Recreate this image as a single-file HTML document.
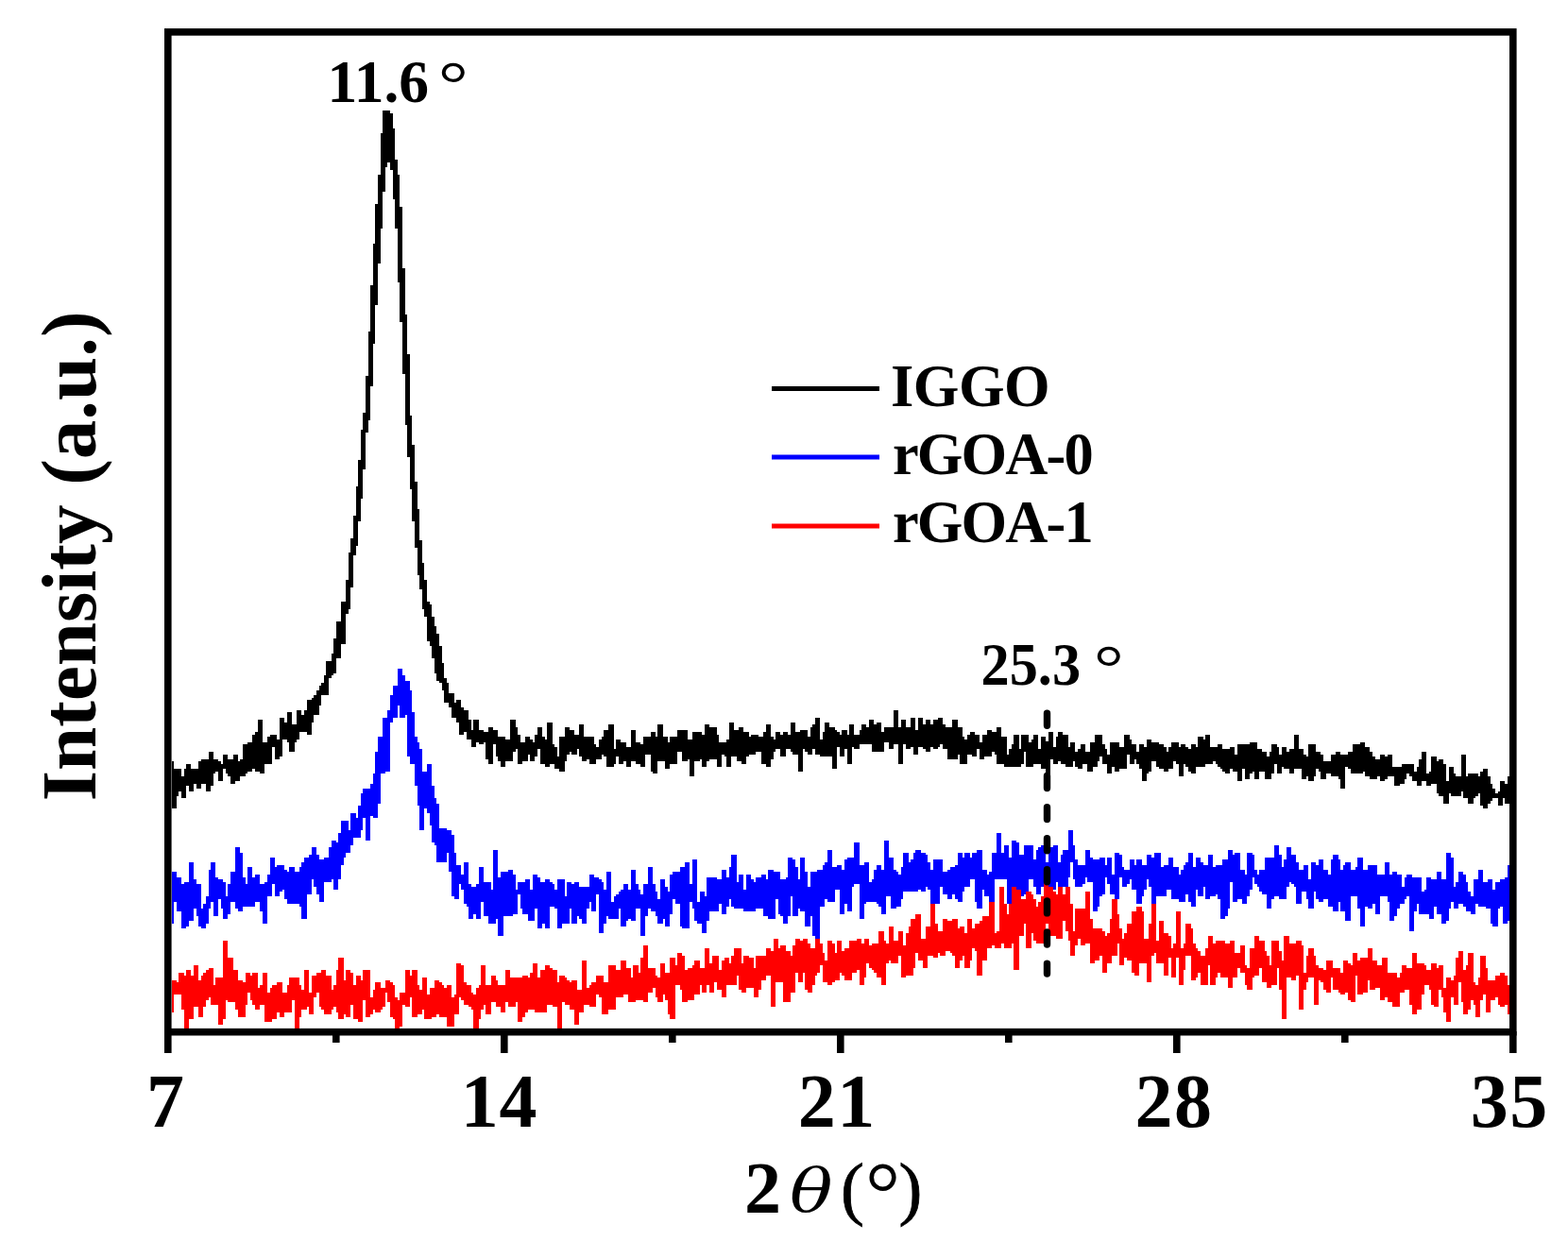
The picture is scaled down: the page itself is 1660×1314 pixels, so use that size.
<!DOCTYPE html>
<html><head><meta charset="utf-8"><style>
html,body{margin:0;padding:0;background:#fff;}
svg{display:block;}
text{font-family:"Liberation Serif","Times New Roman",serif;fill:#000;}
.b{font-weight:bold;}
</style></head><body>
<svg width="1660" height="1314" viewBox="0 0 1660 1314">
<rect width="1660" height="1314" fill="#fff"/>
<g shape-rendering="crispEdges">
<path d="M181.5 806.3H184.1V814.1H186.7H189.3H191.9V821.9H194.5V814.1H197.1V808.9H199.7H202.3V814.1H204.9H207.5H210.1V806.3H212.7V803.7H215.3H217.9H220.5V795.9H223.1H225.7V803.7H228.3H230.9V806.3H233.5V808.9H236.1V798.5H238.7H241.3V803.7H243.9H246.5V798.5H249.1H251.7V806.3H254.3V803.7H256.9V788.1H259.5H262.1V785.5H264.7H267.3V777.7H269.9V775.1H272.5V762.1H275.1H277.7V785.5H280.3H282.9V780.3H285.5V777.7H288.1H290.7H293.3V782.9H295.9V759.5H298.5H301.1V764.7H303.7V754.3H306.3H308.9V767.3H311.5H314.1V751.7H316.7H319.3V756.9H321.9V751.7H324.5V741.3H327.1H329.7V738.7H332.3V736.1H334.9V730.9H337.5V725.7H340.1V723.1H342.7V715.3H345.3V699.7H347.9H350.5V691.9H353.1V676.3H355.7V658.1H358.3H360.9V637.3H363.5H366.1V613.9H368.7V585.3H371.3V569.7H373.9V546.3H376.5V515.1H379.1V486.5H381.7V455.3H384.3V437.1H386.9V398.1H389.5V351.3H392.1V301.9H394.7V257.7H397.3V216.1H399.9V184.9H402.5V140.7H405.1V117.3H407.7H410.3H412.9V119.9H415.5V135.5H418.1V169.3H420.7V184.9H423.3V218.7H425.9V283.7H428.5V333.1H431.1V374.7H433.7V439.7H436.3V470.9H438.9V509.9H441.5V538.5H444.1V572.3H446.7V595.7H449.3V613.9H451.9V637.3H454.5V639.9H457.1V652.9H459.7V663.3H462.3V671.1H464.9V684.1H467.5V702.3H470.1V717.9H472.7V723.1H475.3V733.5H477.9H480.5V743.9H483.1V741.3H485.7H488.3V749.1H490.9V751.7H493.5H496.1V762.1H498.7V772.5H501.3V762.1H503.9H506.5V772.5H509.1H511.7V775.1H514.3H516.9V769.9H519.5H522.1V772.5H524.7H527.3V780.3H529.9H532.5H535.1V782.9H537.7H540.3V762.1H542.9H545.5V769.9H548.1V777.7H550.7V785.5H553.3H555.9V780.3H558.5H561.1V782.9H563.7V785.5H566.3V777.7H568.9V769.9H571.5H574.1V780.3H576.7V782.9H579.3V764.7H581.9H584.5V788.1H587.1V790.7H589.7V801.1H592.3V780.3H594.9H597.5V769.9H600.1H602.7V772.5H605.3H607.9V777.7H610.5H613.1V767.3H615.7H618.3V780.3H620.9H623.5H626.1H628.7V788.1H631.3V790.7H633.9V782.9H636.5V780.3H639.1V772.5H641.7H644.3V767.3H646.9H649.5V793.3H652.1V782.9H654.7H657.3V785.5H659.9H662.5V790.7H665.1H667.7V772.5H670.3H672.9V785.5H675.5H678.1V788.1H680.7V780.3H683.3H685.9H688.5V775.1H691.1H693.7V780.3H696.3V767.3H698.9H701.5V780.3H704.1H706.7V785.5H709.3V780.3H711.9H714.5H717.1V772.5H719.7H722.3H724.9H727.5V782.9H730.1H732.7V775.1H735.3H737.9H740.5H743.1V777.7H745.7V767.3H748.3H750.9V769.9H753.5H756.1H758.7V777.7H761.3V785.5H763.9H766.5H769.1V782.9H771.7V764.7H774.3H776.9V772.5H779.5H782.1V769.9H784.7H787.3V775.1H789.9H792.5V780.3H795.1V777.7H797.7H800.3H802.9V780.3H805.5H808.1V775.1H810.7V767.3H813.3H815.9V780.3H818.5V782.9H821.1V775.1H823.7H826.3V777.7H828.9V775.1H831.5H834.1V777.7H836.7V764.7H839.3H841.9V775.1H844.5H847.1V772.5H849.7H852.3H854.9V780.3H857.5V769.9H860.1V767.3H862.7V759.5H865.3H867.9V782.9H870.5V775.1H873.1V764.7H875.7H878.3V769.9H880.9H883.5V772.5H886.1V775.1H888.7V777.7H891.3V772.5H893.9H896.5V777.7H899.1V767.3H901.7H904.3V777.7H906.9H909.5V772.5H912.1V767.3H914.7H917.3V769.9H919.9V762.1H922.5H925.1V767.3H927.7V764.7H930.3H932.9V775.1H935.5V769.9H938.1H940.7H943.3H945.9V751.7H948.5H951.1V769.9H953.7V762.1H956.3H958.9V769.9H961.5H964.1V759.5H966.7H969.3V772.5H971.9V759.5H974.5H977.1V767.3H979.7V762.1H982.3H984.9V767.3H987.5V762.1H990.1H992.7V759.5H995.3H997.9V767.3H1000.5V769.9H1003.1H1005.7H1008.3V762.1H1010.9H1013.5V769.9H1016.1H1018.7V780.3H1021.3V782.9H1023.9V777.7H1026.5V775.1H1029.1H1031.7V777.7H1034.3H1036.9V785.5H1039.5V777.7H1042.1H1044.7V772.5H1047.3H1049.9V775.1H1052.5H1055.1V769.9H1057.7H1060.3V780.3H1062.9H1065.5V798.5H1068.1V793.3H1070.7V788.1H1073.3V777.7H1075.9H1078.5V793.3H1081.1V777.7H1083.7H1086.3H1088.9V785.5H1091.5V782.9H1094.1V777.7H1096.7H1099.3V793.3H1101.9V780.3H1104.5H1107.1V788.1H1109.7V775.1H1112.3H1114.9V790.7H1117.5V780.3H1120.1V775.1H1122.7H1125.3V777.7H1127.9H1130.5V790.7H1133.1V785.5H1135.7H1138.3V795.9H1140.9V793.3H1143.5V788.1H1146.1H1148.7V795.9H1151.3H1153.9V785.5H1156.5H1159.1V777.7H1161.7H1164.3H1166.9V788.1H1169.5V793.3H1172.1V798.5H1174.7V785.5H1177.3H1179.9H1182.5H1185.1V790.7H1187.7H1190.3V777.7H1192.9H1195.5V782.9H1198.1V788.1H1200.7H1203.3V795.9H1205.9V788.1H1208.5H1211.1V790.7H1213.7V782.9H1216.3H1218.9V785.5H1221.5H1224.1H1226.7V788.1H1229.3H1231.9V790.7H1234.5V795.9H1237.1V790.7H1239.7V785.5H1242.3H1244.9H1247.5V790.7H1250.1V788.1H1252.7H1255.3V790.7H1257.9V793.3H1260.5V788.1H1263.1H1265.7V790.7H1268.3V780.3H1270.9H1273.5V782.9H1276.1V777.7H1278.7H1281.3V790.7H1283.9H1286.5H1289.1V788.1H1291.7H1294.3V793.3H1296.9H1299.5H1302.1V790.7H1304.7H1307.3V798.5H1309.9V788.1H1312.5H1315.1H1317.7H1320.3H1322.9V785.5H1325.5H1328.1H1330.7V793.3H1333.3H1335.9V795.9H1338.5H1341.1V801.1H1343.7V795.9H1346.3V788.1H1348.9H1351.5V790.7H1354.1V798.5H1356.7V790.7H1359.3H1361.9V795.9H1364.5V793.3H1367.1H1369.7V777.7H1372.3H1374.9V793.3H1377.5H1380.1V798.5H1382.7V801.1H1385.3V788.1H1387.9H1390.5H1393.1V795.9H1395.7H1398.3V798.5H1400.9V806.3H1403.5H1406.1H1408.7V798.5H1411.3H1413.9V795.9H1416.5H1419.1V798.5H1421.7H1424.3H1426.9V795.9H1429.5H1432.1V788.1H1434.7H1437.3H1439.9V785.5H1442.5H1445.1V790.7H1447.7H1450.3V795.9H1452.9V801.1H1455.5V803.7H1458.1H1460.7V798.5H1463.3H1465.9V801.1H1468.5V798.5H1471.1H1473.7V811.5H1476.3H1478.9H1481.5H1484.1V808.9H1486.7H1489.3H1491.9H1494.5H1497.1V816.7H1499.7V811.5H1502.3V803.7H1504.9V795.9H1507.5H1510.1V819.3H1512.7V816.7H1515.3V801.1H1517.9H1520.5V806.3H1523.1V803.7H1525.7H1528.3V808.9H1530.9V827.1H1533.5V811.5H1536.1H1538.7V819.3H1541.3V821.9H1543.9H1546.5V798.5H1549.1H1551.7V821.9H1554.3V819.3H1556.9H1559.5H1562.1H1564.7V821.9H1567.3V816.7H1569.9V814.1H1572.5H1575.1V821.9H1577.7V829.7H1580.3V834.9H1582.9V840.1H1585.5V837.5H1588.1V827.1H1590.7H1593.3V829.7H1595.9V821.9H1598.0V850.5H1595.9H1593.3V845.3H1590.7V853.1H1588.1H1585.5V845.3H1582.9H1580.3V847.9H1577.7V850.5H1575.1V855.7H1572.5H1569.9V853.1H1567.3V840.1H1564.7V842.7H1562.1V845.3H1559.5V850.5H1556.9H1554.3V845.3H1551.7H1549.1V837.5H1546.5V842.7H1543.9H1541.3H1538.7H1536.1V840.1H1533.5V850.5H1530.9H1528.3V842.7H1525.7H1523.1V840.1H1520.5V829.7H1517.9H1515.3V832.3H1512.7H1510.1V827.1H1507.5H1504.9V832.3H1502.3H1499.7V827.1H1497.1H1494.5V821.9H1491.9V819.3H1489.3V824.5H1486.7V829.7H1484.1H1481.5V832.3H1478.9H1476.3V821.9H1473.7H1471.1H1468.5V824.5H1465.9V827.1H1463.3H1460.7V821.9H1458.1V824.5H1455.5H1452.9H1450.3V821.9H1447.7H1445.1V816.7H1442.5V819.3H1439.9H1437.3H1434.7H1432.1H1429.5V814.1H1426.9V811.5H1424.3V834.9H1421.7H1419.1V824.5H1416.5V821.9H1413.9H1411.3H1408.7V819.3H1406.1H1403.5V824.5H1400.9H1398.3V816.7H1395.7V814.1H1393.1V821.9H1390.5V827.1H1387.9H1385.3V821.9H1382.7V824.5H1380.1H1377.5V814.1H1374.9H1372.3H1369.7V819.3H1367.1H1364.5V814.1H1361.9H1359.3V811.5H1356.7V819.3H1354.1H1351.5V808.9H1348.9V819.3H1346.3V824.5H1343.7H1341.1H1338.5V816.7H1335.9H1333.3V824.5H1330.7H1328.1V816.7H1325.5V819.3H1322.9V824.5H1320.3H1317.7V814.1H1315.1V827.1H1312.5H1309.9V816.7H1307.3H1304.7V814.1H1302.1V819.3H1299.5H1296.9V816.7H1294.3V814.1H1291.7V811.5H1289.1V808.9H1286.5V806.3H1283.9V808.9H1281.3H1278.7H1276.1V811.5H1273.5H1270.9H1268.3H1265.7V819.3H1263.1H1260.5V816.7H1257.9V811.5H1255.3V808.9H1252.7V821.9H1250.1H1247.5V808.9H1244.9V806.3H1242.3V814.1H1239.7H1237.1V816.7H1234.5H1231.9V814.1H1229.3H1226.7V811.5H1224.1V806.3H1221.5H1218.9V816.7H1216.3V819.3H1213.7V827.1H1211.1H1208.5V814.1H1205.9V808.9H1203.3V803.7H1200.7V808.9H1198.1H1195.5V798.5H1192.9V814.1H1190.3H1187.7H1185.1V816.7H1182.5H1179.9V811.5H1177.3V819.3H1174.7H1172.1V808.9H1169.5H1166.9V801.1H1164.3V806.3H1161.7V811.5H1159.1H1156.5V816.7H1153.9H1151.3V808.9H1148.7H1146.1V814.1H1143.5H1140.9V811.5H1138.3V806.3H1135.7V811.5H1133.1H1130.5H1127.9V808.9H1125.3H1122.7V806.3H1120.1V808.9H1117.5H1114.9V803.7H1112.3V834.9H1109.7H1107.1V814.1H1104.5H1101.9V808.9H1099.3H1096.7H1094.1V811.5H1091.5H1088.9H1086.3V795.9H1083.7V808.9H1081.1V811.5H1078.5H1075.9H1073.3H1070.7H1068.1H1065.5H1062.9V808.9H1060.3H1057.7H1055.1V798.5H1052.5V795.9H1049.9V801.1H1047.3H1044.7H1042.1V803.7H1039.5H1036.9V793.3H1034.3V801.1H1031.7H1029.1V798.5H1026.5H1023.9V808.9H1021.3H1018.7H1016.1V798.5H1013.5V803.7H1010.9H1008.3H1005.7H1003.1V793.3H1000.5H997.9V788.1H995.3V790.7H992.7V793.3H990.1H987.5V790.7H984.9V795.9H982.3H979.7V793.3H977.1V790.7H974.5H971.9V798.5H969.3H966.7V790.7H964.1V793.3H961.5H958.9V788.1H956.3V808.9H953.7H951.1V788.1H948.5H945.9V793.3H943.3H940.7V785.5H938.1H935.5V795.9H932.9H930.3H927.7H925.1H922.5V788.1H919.9H917.3H914.7H912.1H909.5V793.3H906.9H904.3V790.7H901.7V808.9H899.1H896.5V793.3H893.9V801.1H891.3H888.7V790.7H886.1V814.1H883.5H880.9V801.1H878.3H875.7H873.1H870.5H867.9V798.5H865.3H862.7V793.3H860.1V798.5H857.5H854.9V795.9H852.3V793.3H849.7V816.7H847.1H844.5V798.5H841.9H839.3V795.9H836.7V793.3H834.1H831.5V801.1H828.9H826.3V793.3H823.7H821.1V795.9H818.5V803.7H815.9V811.5H813.3H810.7V808.9H808.1H805.5V795.9H802.9H800.3V798.5H797.7H795.1H792.5V801.1H789.9V808.9H787.3H784.7V806.3H782.1H779.5V801.1H776.9H774.3V811.5H771.7H769.1V801.1H766.5V798.5H763.9V811.5H761.3H758.7V803.7H756.1H753.5H750.9V806.3H748.3V811.5H745.7H743.1V803.7H740.5V806.3H737.9H735.3V821.9H732.7H730.1V803.7H727.5V806.3H724.9H722.3V795.9H719.7H717.1V808.9H714.5H711.9H709.3V814.1H706.7H704.1V806.3H701.5H698.9H696.3V819.3H693.7H691.1V816.7H688.5V798.5H685.9H683.3V811.5H680.7H678.1V808.9H675.5H672.9V806.3H670.3H667.7V811.5H665.1H662.5V806.3H659.9V808.9H657.3H654.7V801.1H652.1V808.9H649.5V811.5H646.9H644.3H641.7V801.1H639.1V798.5H636.5V803.7H633.9H631.3V808.9H628.7H626.1H623.5V803.7H620.9V806.3H618.3H615.7V801.1H613.1V793.3H610.5V798.5H607.9H605.3V795.9H602.7V798.5H600.1V806.3H597.5V816.7H594.9H592.3V814.1H589.7H587.1V808.9H584.5H581.9V811.5H579.3H576.7V808.9H574.1H571.5V793.3H568.9V801.1H566.3V806.3H563.7H561.1V798.5H558.5V806.3H555.9H553.3V808.9H550.7H548.1V793.3H545.5V795.9H542.9V806.3H540.3H537.7H535.1V811.5H532.5H529.9V806.3H527.3V801.1H524.7V788.1H522.1V808.9H519.5H516.9V803.7H514.3V785.5H511.7V788.1H509.1H506.5V785.5H503.9V790.7H501.3H498.7V782.9H496.1H493.5V775.1H490.9V777.7H488.3H485.7V764.7H483.1V759.5H480.5H477.9V749.1H475.3V743.9H472.7H470.1V730.9H467.5V723.1H464.9V720.5H462.3V712.7H459.7V697.1H457.1V684.1H454.5V678.9H451.9V652.9H449.3V645.1H446.7V624.3H444.1V608.7H441.5V580.1H438.9V551.5H436.3V517.7H433.7V483.9H431.1V450.1H428.5V395.5H425.9V340.9H423.3V299.3H420.7V242.1H418.1V210.9H415.5V179.7H412.9V171.9H410.3V177.1H407.7V203.1H405.1V242.1H402.5V278.5H399.9V322.7H397.3V364.3H394.7V408.5H392.1V444.9H389.5V457.9H386.9V496.9H384.3V528.1H381.7V551.5H379.1V577.5H376.5V587.9H373.9V621.7H371.3V645.1H368.7V650.3H366.1V681.5H363.5H360.9V697.1H358.3H355.7V712.7H353.1V715.3H350.5V717.9H347.9V736.1H345.3H342.7H340.1V746.5H337.5V756.9H334.9H332.3V764.7H329.7V777.7H327.1H324.5V775.1H321.9H319.3H316.7V782.9H314.1V785.5H311.5V795.9H308.9H306.3V785.5H303.7V782.9H301.1H298.5V801.1H295.9V803.7H293.3H290.7V790.7H288.1V808.9H285.5H282.9H280.3V819.3H277.7H275.1V816.7H272.5H269.9V814.1H267.3V816.7H264.7H262.1V819.3H259.5V821.9H256.9H254.3V827.1H251.7H249.1V829.7H246.5H243.9V821.9H241.3V819.3H238.7V814.1H236.1V827.1H233.5H230.9V816.7H228.3V819.3H225.7V832.3H223.1V837.5H220.5H217.9V829.7H215.3H212.7V834.9H210.1H207.5V829.7H204.9V837.5H202.3H199.7V832.3H197.1V845.3H194.5H191.9V837.5H189.3V842.7H186.7V855.7H184.1H181.5Z" fill="#000"/>
<path d="M181.5 923.3H184.1H186.7V928.5H189.3H191.9V936.3H194.5V933.7H197.1H199.7V912.9H202.3H204.9V931.1H207.5V936.3H210.1H212.7V962.3H215.3V957.1H217.9V949.3H220.5V920.7H223.1V912.9H225.7H228.3V928.5H230.9V931.1H233.5H236.1V933.7H238.7V949.3H241.3V936.3H243.9V923.3H246.5H249.1V897.3H251.7H254.3V902.5H256.9V928.5H259.5V936.3H262.1V918.1H264.7H267.3V928.5H269.9V925.9H272.5H275.1V936.3H277.7H280.3V933.7H282.9V925.9H285.5V907.7H288.1H290.7V918.1H293.3V915.5H295.9H298.5H301.1V920.7H303.7V923.3H306.3V918.1H308.9H311.5V923.3H314.1H316.7V918.1H319.3V912.9H321.9V907.7H324.5H327.1V905.1H329.7V897.3H332.3H334.9V905.1H337.5V910.3H340.1H342.7V907.7H345.3H347.9V897.3H350.5V889.5H353.1H355.7V892.1H358.3V881.7H360.9V868.7H363.5H366.1H368.7V879.1H371.3V860.9H373.9H376.5V866.1H379.1V853.1H381.7V840.1H384.3V834.9H386.9H389.5H392.1V829.7H394.7V819.3H397.3V795.9H399.9V780.3H402.5H405.1V759.5H407.7H410.3V751.7H412.9V736.1H415.5V725.7H418.1H420.7V707.5H423.3H425.9V715.3H428.5V720.5H431.1H433.7V730.9H436.3V754.3H438.9V780.3H441.5V785.5H444.1V793.3H446.7V816.7H449.3H451.9V808.9H454.5H457.1V832.3H459.7V845.3H462.3V850.5H464.9V876.5H467.5H470.1H472.7V879.1H475.3H477.9V884.3H480.5V902.5H483.1V915.5H485.7H488.3V925.9H490.9V912.9H493.5H496.1V936.3H498.7V938.9H501.3H503.9V936.3H506.5V918.1H509.1H511.7V933.7H514.3H516.9H519.5V941.5H522.1V899.9H524.7H527.3V928.5H529.9V923.3H532.5H535.1H537.7V920.7H540.3H542.9V925.9H545.5V941.5H548.1V933.7H550.7H553.3H555.9V931.1H558.5H561.1V941.5H563.7V925.9H566.3H568.9V928.5H571.5V933.7H574.1H576.7V931.1H579.3H581.9V933.7H584.5V936.3H587.1V941.5H589.7V931.1H592.3H594.9H597.5V949.3H600.1V933.7H602.7H605.3V936.3H607.9V933.7H610.5H613.1V938.9H615.7H618.3H620.9H623.5V925.9H626.1H628.7V928.5H631.3H633.9V931.1H636.5V933.7H639.1V941.5H641.7V923.3H644.3H646.9V954.5H649.5V949.3H652.1V946.7H654.7V944.1H657.3V941.5H659.9V936.3H662.5H665.1V941.5H667.7V920.7H670.3H672.9V936.3H675.5V941.5H678.1V946.7H680.7V936.3H683.3H685.9V918.1H688.5H691.1V936.3H693.7V944.1H696.3V951.9H698.9V931.1H701.5H704.1V938.9H706.7V944.1H709.3V925.9H711.9V923.3H714.5H717.1H719.7V918.1H722.3H724.9V912.9H727.5H730.1V936.3H732.7V910.3H735.3H737.9V954.5H740.5V944.1H743.1H745.7V949.3H748.3V928.5H750.9H753.5H756.1H758.7V931.1H761.3H763.9V920.7H766.5H769.1V928.5H771.7V918.1H774.3V905.1H776.9H779.5V933.7H782.1V925.9H784.7H787.3V941.5H789.9V925.9H792.5H795.1V931.1H797.7V933.7H800.3V928.5H802.9H805.5V925.9H808.1H810.7V931.1H813.3V920.7H815.9H818.5V923.3H821.1H823.7H826.3V931.1H828.9H831.5V928.5H834.1V907.7H836.7H839.3V910.3H841.9V918.1H844.5V931.1H847.1V907.7H849.7H852.3V923.3H854.9V938.9H857.5V923.3H860.1H862.7H865.3V920.7H867.9H870.5V915.5H873.1V912.9H875.7V899.9H878.3H880.9V918.1H883.5H886.1V915.5H888.7H891.3V920.7H893.9V910.3H896.5V907.7H899.1H901.7H904.3V892.1H906.9H909.5V915.5H912.1H914.7V912.9H917.3H919.9V933.7H922.5V931.1H925.1V920.7H927.7V915.5H930.3H932.9V920.7H935.5V889.5H938.1H940.7V907.7H943.3H945.9V920.7H948.5V923.3H951.1V925.9H953.7V918.1H956.3V902.5H958.9H961.5V912.9H964.1V910.3H966.7V902.5H969.3V899.9H971.9H974.5V902.5H977.1H979.7V905.1H982.3V912.9H984.9V920.7H987.5V910.3H990.1H992.7H995.3H997.9V923.3H1000.5H1003.1V920.7H1005.7V918.1H1008.3H1010.9V915.5H1013.5V902.5H1016.1H1018.7V907.7H1021.3V902.5H1023.9H1026.5V907.7H1029.1V902.5H1031.7H1034.3V899.9H1036.9H1039.5V920.7H1042.1H1044.7V925.9H1047.3V923.3H1049.9V902.5H1052.5H1055.1V881.7H1057.7H1060.3V902.5H1062.9V894.7H1065.5H1068.1V907.7H1070.7V889.5H1073.3H1075.9V892.1H1078.5V905.1H1081.1H1083.7V894.7H1086.3H1088.9H1091.5H1094.1V910.3H1096.7V899.9H1099.3V897.3H1101.9V894.7H1104.5H1107.1V912.9H1109.7V897.3H1112.3H1114.9V894.7H1117.5H1120.1V912.9H1122.7V905.1H1125.3V899.9H1127.9H1130.5V879.1H1133.1H1135.7V894.7H1138.3V910.3H1140.9V915.5H1143.5H1146.1H1148.7V899.9H1151.3H1153.9V907.7H1156.5V910.3H1159.1H1161.7H1164.3V907.7H1166.9H1169.5V915.5H1172.1V907.7H1174.7H1177.3V925.9H1179.9V902.5H1182.5H1185.1V905.1H1187.7V918.1H1190.3V920.7H1192.9H1195.5V910.3H1198.1H1200.7V915.5H1203.3V910.3H1205.9H1208.5V915.5H1211.1H1213.7V905.1H1216.3H1218.9V907.7H1221.5V902.5H1224.1H1226.7H1229.3V918.1H1231.9V915.5H1234.5H1237.1V907.7H1239.7H1242.3V918.1H1244.9H1247.5V925.9H1250.1V920.7H1252.7V915.5H1255.3V912.9H1257.9V902.5H1260.5H1263.1V918.1H1265.7V907.7H1268.3H1270.9V912.9H1273.5V915.5H1276.1H1278.7V905.1H1281.3H1283.9V918.1H1286.5V915.5H1289.1H1291.7H1294.3V910.3H1296.9H1299.5V899.9H1302.1H1304.7V905.1H1307.3V902.5H1309.9H1312.5V920.7H1315.1H1317.7V925.9H1320.3V902.5H1322.9H1325.5V905.1H1328.1V920.7H1330.7V925.9H1333.3V920.7H1335.9H1338.5V907.7H1341.1H1343.7H1346.3H1348.9V894.7H1351.5H1354.1V905.1H1356.7V918.1H1359.3V910.3H1361.9V897.3H1364.5H1367.1V905.1H1369.7H1372.3V912.9H1374.9V920.7H1377.5H1380.1V915.5H1382.7H1385.3V931.1H1387.9V912.9H1390.5H1393.1V915.5H1395.7V910.3H1398.3H1400.9V920.7H1403.5H1406.1V925.9H1408.7V910.3H1411.3V905.1H1413.9H1416.5V910.3H1419.1V920.7H1421.7V915.5H1424.3V912.9H1426.9H1429.5V920.7H1432.1H1434.7V918.1H1437.3V907.7H1439.9H1442.5V920.7H1445.1H1447.7V915.5H1450.3H1452.9H1455.5H1458.1V925.9H1460.7H1463.3H1465.9V912.9H1468.5H1471.1V925.9H1473.7V923.3H1476.3H1478.9V925.9H1481.5H1484.1V938.9H1486.7V928.5H1489.3V925.9H1491.9H1494.5V928.5H1497.1H1499.7H1502.3H1504.9V944.1H1507.5V941.5H1510.1V928.5H1512.7H1515.3V931.1H1517.9H1520.5V923.3H1523.1H1525.7V931.1H1528.3H1530.9V902.5H1533.5H1536.1V907.7H1538.7V938.9H1541.3V933.7H1543.9V923.3H1546.5H1549.1V925.9H1551.7V933.7H1554.3V944.1H1556.9V949.3H1559.5V931.1H1562.1H1564.7V920.7H1567.3H1569.9V933.7H1572.5H1575.1V931.1H1577.7H1580.3V941.5H1582.9V933.7H1585.5H1588.1V931.1H1590.7H1593.3V928.5H1595.9V915.5H1598.0V975.3H1595.9V977.9H1593.3H1590.7V959.7H1588.1V962.3H1585.5V980.5H1582.9H1580.3V977.9H1577.7V962.3H1575.1H1572.5V959.7H1569.9H1567.3H1564.7V957.1H1562.1V967.5H1559.5H1556.9V964.9H1554.3H1551.7V959.7H1549.1V957.1H1546.5H1543.9V962.3H1541.3H1538.7V954.5H1536.1V962.3H1533.5V975.3H1530.9V977.9H1528.3H1525.7V967.5H1523.1H1520.5V959.7H1517.9V972.7H1515.3H1512.7V967.5H1510.1H1507.5H1504.9H1502.3V957.1H1499.7V964.9H1497.1V985.7H1494.5H1491.9V949.3H1489.3V951.9H1486.7V957.1H1484.1H1481.5V962.3H1478.9V970.1H1476.3V975.3H1473.7H1471.1V954.5H1468.5V949.3H1465.9H1463.3H1460.7V967.5H1458.1H1455.5V957.1H1452.9V962.3H1450.3H1447.7V959.7H1445.1V980.5H1442.5H1439.9V962.3H1437.3V949.3H1434.7H1432.1H1429.5V975.3H1426.9H1424.3V964.9H1421.7H1419.1V954.5H1416.5V964.9H1413.9H1411.3V959.7H1408.7H1406.1V951.9H1403.5H1400.9V954.5H1398.3H1395.7V951.9H1393.1V944.1H1390.5V962.3H1387.9H1385.3V951.9H1382.7V944.1H1380.1H1377.5V957.1H1374.9H1372.3V938.9H1369.7V936.3H1367.1V933.7H1364.5V938.9H1361.9V951.9H1359.3H1356.7H1354.1V949.3H1351.5H1348.9V951.9H1346.3V962.3H1343.7H1341.1V946.7H1338.5H1335.9V944.1H1333.3V938.9H1330.7V936.3H1328.1V928.5H1325.5V941.5H1322.9V949.3H1320.3V957.1H1317.7H1315.1V951.9H1312.5H1309.9V954.5H1307.3H1304.7V933.7H1302.1V962.3H1299.5V970.1H1296.9V972.7H1294.3H1291.7V951.9H1289.1V946.7H1286.5V949.3H1283.9H1281.3V951.9H1278.7H1276.1V938.9H1273.5V949.3H1270.9H1268.3V941.5H1265.7V959.7H1263.1H1260.5V954.5H1257.9V946.7H1255.3V954.5H1252.7H1250.1H1247.5V951.9H1244.9H1242.3H1239.7V941.5H1237.1H1234.5V949.3H1231.9H1229.3H1226.7H1224.1V957.1H1221.5H1218.9V938.9H1216.3V931.1H1213.7V941.5H1211.1V949.3H1208.5V957.1H1205.9H1203.3V941.5H1200.7H1198.1V931.1H1195.5V936.3H1192.9V938.9H1190.3H1187.7V928.5H1185.1V951.9H1182.5H1179.9V946.7H1177.3H1174.7V936.3H1172.1V928.5H1169.5V946.7H1166.9V949.3H1164.3V959.7H1161.7V964.9H1159.1H1156.5V933.7H1153.9H1151.3V928.5H1148.7V936.3H1146.1V938.9H1143.5H1140.9H1138.3V931.1H1135.7V912.9H1133.1V928.5H1130.5V938.9H1127.9H1125.3V944.1H1122.7H1120.1V933.7H1117.5V941.5H1114.9H1112.3H1109.7H1107.1V938.9H1104.5H1101.9V946.7H1099.3H1096.7V938.9H1094.1V931.1H1091.5H1088.9V946.7H1086.3H1083.7V949.3H1081.1H1078.5V946.7H1075.9V949.3H1073.3H1070.7V957.1H1068.1H1065.5V931.1H1062.9H1060.3H1057.7H1055.1H1052.5V957.1H1049.9H1047.3V949.3H1044.7H1042.1V941.5H1039.5V962.3H1036.9H1034.3V954.5H1031.7V931.1H1029.1H1026.5V938.9H1023.9H1021.3V944.1H1018.7V954.5H1016.1H1013.5V951.9H1010.9V946.7H1008.3V951.9H1005.7H1003.1V946.7H1000.5H997.9V938.9H995.3V957.1H992.7H990.1V970.1H987.5H984.9V941.5H982.3V938.9H979.7V944.1H977.1H974.5V941.5H971.9V944.1H969.3H966.7H964.1H961.5H958.9H956.3V951.9H953.7V959.7H951.1H948.5V962.3H945.9H943.3V949.3H940.7H938.1V967.5H935.5H932.9V959.7H930.3V957.1H927.7V954.5H925.1H922.5H919.9H917.3V957.1H914.7V972.7H912.1H909.5V936.3H906.9H904.3V938.9H901.7V964.9H899.1H896.5V957.1H893.9V967.5H891.3H888.7V941.5H886.1H883.5V954.5H880.9H878.3H875.7V951.9H873.1V959.7H870.5H867.9V996.1H865.3H862.7V990.9H860.1V970.1H857.5V980.5H854.9H852.3V964.9H849.7H847.1V962.3H844.5V970.1H841.9H839.3V949.3H836.7V970.1H834.1V977.9H831.5H828.9V970.1H826.3V967.5H823.7V951.9H821.1V972.7H818.5H815.9H813.3V970.1H810.7H808.1V962.3H805.5H802.9H800.3V964.9H797.7H795.1H792.5H789.9H787.3V962.3H784.7H782.1H779.5H776.9V959.7H774.3V951.9H771.7V959.7H769.1V967.5H766.5H763.9V957.1H761.3V964.9H758.7H756.1H753.5H750.9V975.3H748.3V988.3H745.7H743.1V977.9H740.5H737.9V975.3H735.3V962.3H732.7V954.5H730.1V983.1H727.5H724.9H722.3V980.5H719.7V957.1H717.1H714.5V951.9H711.9V967.5H709.3V980.5H706.7H704.1V972.7H701.5V977.9H698.9H696.3V970.1H693.7V964.9H691.1H688.5V962.3H685.9V970.1H683.3V990.9H680.7H678.1V962.3H675.5H672.9V975.3H670.3H667.7V972.7H665.1V975.3H662.5V980.5H659.9H657.3V962.3H654.7V972.7H652.1H649.5H646.9H644.3V970.1H641.7V977.9H639.1V988.3H636.5H633.9V946.7H631.3V964.9H628.7H626.1V954.5H623.5V962.3H620.9V977.9H618.3H615.7V972.7H613.1V970.1H610.5V977.9H607.9H605.3V962.3H602.7V977.9H600.1H597.5H594.9V983.1H592.3H589.7V962.3H587.1V959.7H584.5H581.9V983.1H579.3H576.7V977.9H574.1V983.1H571.5H568.9V962.3H566.3V975.3H563.7H561.1H558.5V967.5H555.9H553.3V962.3H550.7V946.7H548.1V967.5H545.5H542.9V970.1H540.3H537.7H535.1H532.5V990.9H529.9H527.3V972.7H524.7V977.9H522.1H519.5H516.9V970.1H514.3H511.7V954.5H509.1V972.7H506.5H503.9V967.5H501.3V972.7H498.7H496.1V959.7H493.5V957.1H490.9V941.5H488.3V936.3H485.7V951.9H483.1H480.5V949.3H477.9V923.3H475.3V902.5H472.7V912.9H470.1H467.5H464.9H462.3V894.7H459.7V892.1H457.1V873.9H454.5V860.9H451.9V855.7H449.3V879.1H446.7H444.1V853.1H441.5V832.3H438.9V808.9H436.3H433.7V801.1H431.1V756.9H428.5V759.5H425.9H423.3V746.5H420.7V759.5H418.1H415.5V764.7H412.9V816.7H410.3H407.7V819.3H405.1H402.5V850.5H399.9V866.1H397.3H394.7V863.5H392.1V889.5H389.5H386.9V866.1H384.3V879.1H381.7V886.9H379.1H376.5H373.9V894.7H371.3V902.5H368.7H366.1V907.7H363.5V915.5H360.9V931.1H358.3V941.5H355.7H353.1V931.1H350.5V933.7H347.9H345.3H342.7V954.5H340.1H337.5V946.7H334.9V938.9H332.3V931.1H329.7V946.7H327.1H324.5V972.7H321.9H319.3V959.7H316.7V957.1H314.1H311.5H308.9H306.3H303.7V951.9H301.1V941.5H298.5V944.1H295.9V949.3H293.3H290.7V936.3H288.1V949.3H285.5H282.9V977.9H280.3H277.7V964.9H275.1V954.5H272.5H269.9V959.7H267.3H264.7H262.1H259.5H256.9V964.9H254.3H251.7V962.3H249.1V954.5H246.5H243.9V967.5H241.3V972.7H238.7H236.1V962.3H233.5V951.9H230.9V970.1H228.3H225.7V954.5H223.1V962.3H220.5V977.9H217.9V983.1H215.3H212.7V980.5H210.1V970.1H207.5V962.3H204.9V975.3H202.3H199.7V980.5H197.1V983.1H194.5H191.9V964.9H189.3H186.7V954.5H184.1V977.9H181.5Z" fill="#00f"/>
<path d="M181.5 1037.7H184.1H186.7V1040.3H189.3V1029.9H191.9H194.5V1032.5H197.1V1027.3H199.7H202.3V1032.5H204.9V1022.1H207.5H210.1V1037.7H212.7V1032.5H215.3V1029.9H217.9V1027.3H220.5V1024.7H223.1H225.7V1042.9H228.3V1035.1H230.9H233.5H236.1V996.1H238.7H241.3V1014.3H243.9H246.5V1027.3H249.1H251.7V1037.7H254.3H256.9V1040.3H259.5V1029.9H262.1H264.7V1032.5H267.3V1029.9H269.9H272.5V1045.5H275.1V1042.9H277.7V1029.9H280.3H282.9V1050.7H285.5V1045.5H288.1V1042.9H290.7H293.3V1040.3H295.9H298.5V1050.7H301.1H303.7V1042.9H306.3V1035.1H308.9H311.5H314.1H316.7V1042.9H319.3V1048.1H321.9V1027.3H324.5H327.1V1050.7H329.7V1032.5H332.3H334.9V1029.9H337.5H340.1V1027.3H342.7H345.3V1032.5H347.9H350.5V1048.1H353.1V1042.9H355.7V1027.3H358.3V1014.3H360.9H363.5V1037.7H366.1V1027.3H368.7H371.3V1029.9H373.9V1042.9H376.5V1032.5H379.1H381.7V1037.7H384.3V1027.3H386.9H389.5H392.1V1055.9H394.7V1048.1H397.3V1040.3H399.9H402.5V1045.5H405.1H407.7V1037.7H410.3H412.9V1040.3H415.5V1042.9H418.1V1055.9H420.7V1058.5H423.3V1050.7H425.9H428.5V1027.3H431.1H433.7V1032.5H436.3V1027.3H438.9H441.5V1042.9H444.1V1048.1H446.7V1035.1H449.3H451.9V1053.3H454.5V1045.5H457.1H459.7V1037.7H462.3H464.9V1040.3H467.5V1042.9H470.1V1045.5H472.7V1042.9H475.3H477.9V1055.9H480.5V1053.3H483.1V1019.5H485.7H488.3V1022.1H490.9V1040.3H493.5V1042.9H496.1H498.7V1050.7H501.3V1053.3H503.9V1045.5H506.5V1042.9H509.1V1022.1H511.7H514.3V1042.9H516.9H519.5V1032.5H522.1H524.7V1037.7H527.3V1042.9H529.9H532.5H535.1V1027.3H537.7H540.3V1035.1H542.9H545.5H548.1H550.7H553.3V1032.5H555.9H558.5V1035.1H561.1V1029.9H563.7V1019.5H566.3H568.9V1035.1H571.5V1027.3H574.1H576.7V1022.1H579.3H581.9V1024.7H584.5V1027.3H587.1H589.7V1040.3H592.3V1032.5H594.9H597.5V1035.1H600.1V1037.7H602.7V1040.3H605.3V1037.7H607.9H610.5V1048.1H613.1H615.7V1016.9H618.3H620.9V1045.5H623.5V1042.9H626.1V1040.3H628.7H631.3V1032.5H633.9H636.5H639.1V1040.3H641.7H644.3V1022.1H646.9H649.5H652.1V1027.3H654.7H657.3V1016.9H659.9H662.5V1024.7H665.1H667.7V1035.1H670.3V1022.1H672.9H675.5V1029.9H678.1V1014.3H680.7V1001.3H683.3H685.9V1024.7H688.5H691.1H693.7V1032.5H696.3V1035.1H698.9V1019.5H701.5H704.1V1029.9H706.7H709.3V1014.3H711.9H714.5V1022.1H717.1V1009.1H719.7H722.3V1011.7H724.9V1027.3H727.5V1024.7H730.1H732.7V1022.1H735.3V1016.9H737.9H740.5V1024.7H743.1H745.7V1003.9H748.3H750.9V1019.5H753.5V1011.7H756.1H758.7H761.3V1027.3H763.9V1016.9H766.5V1014.3H769.1H771.7V1019.5H774.3V1011.7H776.9V1003.9H779.5H782.1H784.7V1019.5H787.3V1011.7H789.9H792.5V1014.3H795.1H797.7V1024.7H800.3V1011.7H802.9H805.5H808.1H810.7V1003.9H813.3H815.9V1006.5H818.5V993.5H821.1H823.7V1003.9H826.3V1001.3H828.9H831.5V1006.5H834.1H836.7V1011.7H839.3V1001.3H841.9V993.5H844.5H847.1V996.1H849.7V993.5H852.3H854.9V998.7H857.5V1003.9H860.1H862.7V993.5H865.3H867.9V998.7H870.5V1009.1H873.1V1016.9H875.7V996.1H878.3H880.9V998.7H883.5V1009.1H886.1V996.1H888.7H891.3V1006.5H893.9V1003.9H896.5H899.1V996.1H901.7H904.3H906.9V993.5H909.5H912.1V998.7H914.7V993.5H917.3H919.9V1001.3H922.5V998.7H925.1H927.7H930.3V985.7H932.9H935.5V996.1H938.1V998.7H940.7V980.5H943.3H945.9V996.1H948.5H951.1V985.7H953.7H956.3V1001.3H958.9V988.3H961.5V980.5H964.1V972.7H966.7H969.3V967.5H971.9H974.5V993.5H977.1H979.7V980.5H982.3H984.9V957.1H987.5H990.1V977.9H992.7V985.7H995.3H997.9V972.7H1000.5H1003.1V975.3H1005.7H1008.3V972.7H1010.9H1013.5V983.1H1016.1V980.5H1018.7H1021.3V988.3H1023.9V972.7H1026.5H1029.1V983.1H1031.7V977.9H1034.3H1036.9V975.3H1039.5V970.1H1042.1H1044.7H1047.3V954.5H1049.9H1052.5V988.3H1055.1V985.7H1057.7V938.9H1060.3H1062.9V957.1H1065.5V967.5H1068.1V957.1H1070.7V938.9H1073.3H1075.9V941.5H1078.5H1081.1V951.9H1083.7H1086.3V944.1H1088.9H1091.5V946.7H1094.1V951.9H1096.7V959.7H1099.3V954.5H1101.9V949.3H1104.5V928.5H1107.1H1109.7V938.9H1112.3H1114.9V944.1H1117.5V946.7H1120.1V938.9H1122.7H1125.3V946.7H1127.9V938.9H1130.5H1133.1V957.1H1135.7V985.7H1138.3V962.3H1140.9H1143.5H1146.1H1148.7V944.1H1151.3H1153.9V972.7H1156.5V983.1H1159.1H1161.7H1164.3H1166.9V985.7H1169.5V990.9H1172.1V988.3H1174.7V972.7H1177.3V951.9H1179.9H1182.5V967.5H1185.1V983.1H1187.7V993.5H1190.3V988.3H1192.9V977.9H1195.5H1198.1V964.9H1200.7H1203.3V959.7H1205.9H1208.5V964.9H1211.1V993.5H1213.7H1216.3V977.9H1218.9V957.1H1221.5H1224.1V996.1H1226.7V975.3H1229.3H1231.9V988.3H1234.5H1237.1V990.9H1239.7V1003.9H1242.3V998.7H1244.9V964.9H1247.5H1250.1V1003.9H1252.7V998.7H1255.3V977.9H1257.9H1260.5V983.1H1263.1V998.7H1265.7V1003.9H1268.3V1006.5H1270.9V1011.7H1273.5H1276.1V1003.9H1278.7V990.9H1281.3H1283.9V998.7H1286.5V996.1H1289.1H1291.7H1294.3H1296.9V998.7H1299.5H1302.1V996.1H1304.7H1307.3V1009.1H1309.9H1312.5V1001.3H1315.1H1317.7V1022.1H1320.3V1024.7H1322.9V1003.9H1325.5H1328.1V990.9H1330.7H1333.3V996.1H1335.9H1338.5V1006.5H1341.1V1011.7H1343.7V1022.1H1346.3V996.1H1348.9H1351.5H1354.1V1006.5H1356.7V1016.9H1359.3V990.9H1361.9H1364.5V998.7H1367.1H1369.7H1372.3V996.1H1374.9H1377.5V1001.3H1380.1V1029.9H1382.7V1011.7H1385.3V1003.9H1387.9H1390.5V1011.7H1393.1V1022.1H1395.7V1024.7H1398.3H1400.9V1027.3H1403.5V1016.9H1406.1H1408.7H1411.3V1024.7H1413.9H1416.5H1419.1V1029.9H1421.7V1016.9H1424.3H1426.9V1019.5H1429.5V1022.1H1432.1V1009.1H1434.7H1437.3V1016.9H1439.9V1014.3H1442.5H1445.1H1447.7V1003.9H1450.3H1452.9V1016.9H1455.5H1458.1V1022.1H1460.7H1463.3V1014.3H1465.9H1468.5V1029.9H1471.1H1473.7H1476.3H1478.9V1035.1H1481.5V1029.9H1484.1V1022.1H1486.7H1489.3V1024.7H1491.9H1494.5V1009.1H1497.1H1499.7V1019.5H1502.3H1504.9H1507.5V1022.1H1510.1V1027.3H1512.7H1515.3V1019.5H1517.9H1520.5V1024.7H1523.1V1022.1H1525.7H1528.3V1045.5H1530.9V1035.1H1533.5H1536.1V1037.7H1538.7V1032.5H1541.3V1014.3H1543.9V1006.5H1546.5H1549.1V1027.3H1551.7V1022.1H1554.3V1009.1H1556.9H1559.5V1040.3H1562.1V1042.9H1564.7V1035.1H1567.3V1011.7H1569.9H1572.5V1024.7H1575.1V1037.7H1577.7H1580.3H1582.9V1032.5H1585.5H1588.1V1029.9H1590.7H1593.3V1032.5H1595.9V1042.9H1598.0V1074.1H1595.9V1063.7H1593.3V1066.3H1590.7H1588.1V1063.7H1585.5V1055.9H1582.9V1058.5H1580.3H1577.7V1071.5H1575.1H1572.5V1053.3H1569.9V1058.5H1567.3V1076.7H1564.7H1562.1V1063.7H1559.5V1058.5H1556.9V1068.9H1554.3V1074.1H1551.7H1549.1V1061.1H1546.5V1040.3H1543.9V1063.7H1541.3H1538.7V1055.9H1536.1V1081.9H1533.5H1530.9V1071.5H1528.3V1055.9H1525.7V1048.1H1523.1V1066.3H1520.5H1517.9V1063.7H1515.3V1048.1H1512.7V1042.9H1510.1H1507.5V1053.3H1504.9V1068.9H1502.3H1499.7V1074.1H1497.1H1494.5V1063.7H1491.9V1048.1H1489.3H1486.7V1050.7H1484.1H1481.5V1066.3H1478.9H1476.3H1473.7V1061.1H1471.1H1468.5V1055.9H1465.9V1058.5H1463.3H1460.7V1045.5H1458.1H1455.5V1048.1H1452.9H1450.3V1037.7H1447.7V1050.7H1445.1H1442.5V1053.3H1439.9H1437.3V1032.5H1434.7V1061.1H1432.1H1429.5V1058.5H1426.9V1050.7H1424.3V1053.3H1421.7H1419.1V1050.7H1416.5V1048.1H1413.9H1411.3V1035.1H1408.7V1050.7H1406.1H1403.5V1048.1H1400.9V1040.3H1398.3V1037.7H1395.7V1063.7H1393.1H1390.5V1035.1H1387.9H1385.3V1040.3H1382.7V1048.1H1380.1V1068.9H1377.5H1374.9V1032.5H1372.3V1037.7H1369.7H1367.1V1035.1H1364.5H1361.9V1079.3H1359.3H1356.7V1048.1H1354.1V1024.7H1351.5V1042.9H1348.9H1346.3V1045.5H1343.7H1341.1V1040.3H1338.5H1335.9V1024.7H1333.3V1032.5H1330.7H1328.1V1035.1H1325.5V1048.1H1322.9H1320.3V1042.9H1317.7V1029.9H1315.1H1312.5V1024.7H1309.9V1035.1H1307.3H1304.7V1045.5H1302.1H1299.5V1035.1H1296.9H1294.3H1291.7V1029.9H1289.1V1035.1H1286.5V1042.9H1283.9H1281.3V1022.1H1278.7V1042.9H1276.1H1273.5H1270.9V1029.9H1268.3V1035.1H1265.7V1037.7H1263.1H1260.5V1011.7H1257.9H1255.3V1027.3H1252.7V1042.9H1250.1H1247.5V1014.3H1244.9V1035.1H1242.3H1239.7V1014.3H1237.1V1032.5H1234.5H1231.9V1019.5H1229.3H1226.7H1224.1V1009.1H1221.5V1011.7H1218.9V1040.3H1216.3H1213.7V1019.5H1211.1H1208.5H1205.9V1032.5H1203.3H1200.7V1029.9H1198.1V1016.9H1195.5H1192.9V1014.3H1190.3V1022.1H1187.7H1185.1V998.7H1182.5V1011.7H1179.9H1177.3V1019.5H1174.7H1172.1V1029.9H1169.5H1166.9V1011.7H1164.3V1016.9H1161.7H1159.1V1019.5H1156.5H1153.9V998.7H1151.3H1148.7V1001.3H1146.1H1143.5V993.5H1140.9V1001.3H1138.3V1011.7H1135.7H1133.1V996.1H1130.5V985.7H1127.9V975.3H1125.3V993.5H1122.7H1120.1H1117.5V990.9H1114.9H1112.3H1109.7V977.9H1107.1V998.7H1104.5H1101.9H1099.3H1096.7V996.1H1094.1V988.3H1091.5V1003.9H1088.9H1086.3V977.9H1083.7V990.9H1081.1H1078.5V1027.3H1075.9H1073.3V998.7H1070.7V1003.9H1068.1H1065.5H1062.9V998.7H1060.3V1003.9H1057.7H1055.1H1052.5V1001.3H1049.9V1003.9H1047.3H1044.7V1016.9H1042.1H1039.5V1032.5H1036.9H1034.3V1006.5H1031.7V1003.9H1029.1V1016.9H1026.5V1024.7H1023.9H1021.3V1011.7H1018.7V1016.9H1016.1V1024.7H1013.5H1010.9V1011.7H1008.3V1009.1H1005.7V1006.5H1003.1H1000.5V1011.7H997.9H995.3V1009.1H992.7V1014.3H990.1H987.5V1011.7H984.9H982.3V1024.7H979.7H977.1V1016.9H974.5H971.9V1009.1H969.3V1024.7H966.7V1032.5H964.1H961.5H958.9V1035.1H956.3H953.7V1011.7H951.1V1019.5H948.5H945.9H943.3V1016.9H940.7V1019.5H938.1V1042.9H935.5H932.9V1035.1H930.3H927.7V1029.9H925.1V1027.3H922.5V1024.7H919.9V1019.5H917.3V1035.1H914.7V1042.9H912.1H909.5V1027.3H906.9V1029.9H904.3H901.7V1037.7H899.1H896.5H893.9V1032.5H891.3V1029.9H888.7V1037.7H886.1H883.5V1040.3H880.9V1042.9H878.3H875.7V1040.3H873.1H870.5V1022.1H867.9V1029.9H865.3V1032.5H862.7V1042.9H860.1V1050.7H857.5H854.9V1048.1H852.3V1029.9H849.7V1040.3H847.1H844.5V1029.9H841.9V1050.7H839.3H836.7V1061.1H834.1H831.5H828.9V1040.3H826.3H823.7H821.1V1066.3H818.5H815.9V1032.5H813.3H810.7V1037.7H808.1H805.5V1048.1H802.9V1055.9H800.3H797.7V1045.5H795.1H792.5H789.9V1050.7H787.3H784.7V1048.1H782.1V1032.5H779.5V1042.9H776.9H774.3H771.7H769.1V1055.9H766.5H763.9V1048.1H761.3H758.7V1040.3H756.1V1050.7H753.5H750.9V1042.9H748.3V1050.7H745.7H743.1V1042.9H740.5V1053.3H737.9H735.3V1058.5H732.7H730.1H727.5V1061.1H724.9H722.3V1048.1H719.7V1042.9H717.1H714.5V1079.3H711.9H709.3V1074.1H706.7V1058.5H704.1V1053.3H701.5V1061.1H698.9H696.3V1055.9H693.7V1045.5H691.1V1050.7H688.5H685.9V1061.1H683.3H680.7V1058.5H678.1H675.5H672.9V1061.1H670.3H667.7H665.1V1053.3H662.5H659.9V1055.9H657.3H654.7H652.1V1068.9H649.5H646.9H644.3V1074.1H641.7H639.1H636.5V1055.9H633.9V1053.3H631.3V1066.3H628.7H626.1H623.5V1063.7H620.9H618.3V1071.5H615.7H613.1V1084.5H610.5H607.9V1068.9H605.3H602.7V1063.7H600.1H597.5V1061.1H594.9V1089.5H592.3H589.7V1066.3H587.1H584.5V1063.7H581.9H579.3V1071.5H576.7H574.1H571.5H568.9H566.3V1068.9H563.7H561.1H558.5V1071.5H555.9V1076.7H553.3V1081.9H550.7H548.1V1061.1H545.5V1066.3H542.9H540.3H537.7V1061.1H535.1V1071.5H532.5H529.9V1066.3H527.3H524.7V1061.1H522.1H519.5V1074.1H516.9H514.3V1063.7H511.7V1068.9H509.1V1079.3H506.5V1089.5H503.9H501.3V1068.9H498.7V1066.3H496.1V1063.7H493.5H490.9V1058.5H488.3V1055.9H485.7V1074.1H483.1H480.5V1087.1H477.9H475.3H472.7V1076.7H470.1H467.5H464.9V1074.1H462.3V1076.7H459.7H457.1V1079.3H454.5H451.9H449.3V1068.9H446.7V1074.1H444.1H441.5V1076.7H438.9H436.3V1055.9H433.7V1066.3H431.1H428.5V1063.7H425.9V1087.1H423.3V1089.5H420.7H418.1V1079.3H415.5V1076.7H412.9V1061.1H410.3V1050.7H407.7V1066.3H405.1V1068.9H402.5V1071.5H399.9H397.3V1068.9H394.7V1074.1H392.1V1076.7H389.5H386.9V1058.5H384.3V1081.9H381.7H379.1V1079.3H376.5H373.9V1063.7H371.3V1076.7H368.7H366.1V1074.1H363.5V1079.3H360.9H358.3V1071.5H355.7V1066.3H353.1V1068.9H350.5V1074.1H347.9H345.3H342.7V1068.9H340.1V1066.3H337.5V1050.7H334.9V1055.9H332.3V1074.1H329.7H327.1V1066.3H324.5V1068.9H321.9H319.3V1076.7H316.7V1089.5H314.1H311.5V1058.5H308.9V1071.5H306.3H303.7H301.1V1076.7H298.5H295.9V1071.5H293.3V1079.3H290.7H288.1V1081.9H285.5H282.9H280.3V1063.7H277.7H275.1V1068.9H272.5H269.9V1063.7H267.3V1058.5H264.7V1050.7H262.1V1063.7H259.5V1076.7H256.9H254.3H251.7V1068.9H249.1V1061.1H246.5H243.9H241.3V1058.5H238.7V1079.3H236.1V1084.5H233.5H230.9V1063.7H228.3H225.7H223.1V1055.9H220.5V1058.5H217.9V1066.3H215.3V1076.7H212.7H210.1V1066.3H207.5H204.9V1079.3H202.3H199.7V1089.5H197.1H194.5V1068.9H191.9V1053.3H189.3H186.7H184.1V1071.5H181.5Z" fill="#f00"/>
</g>
<line x1="1108.5" y1="755.3" x2="1108.5" y2="1031" stroke="#000" stroke-width="7.4" stroke-linecap="round" stroke-dasharray="13 20.1"/>
<rect x="177.8" y="33.9" width="1424" height="1058.8" fill="none" stroke="#000" stroke-width="7.6"/>
<line x1="177.8" y1="1092" x2="177.8" y2="1115" stroke="#000" stroke-width="7.6"/>
<line x1="533.8" y1="1092" x2="533.8" y2="1115" stroke="#000" stroke-width="7.6"/>
<line x1="889.8" y1="1092" x2="889.8" y2="1115" stroke="#000" stroke-width="7.6"/>
<line x1="1245.8" y1="1092" x2="1245.8" y2="1115" stroke="#000" stroke-width="7.6"/>
<line x1="1601.8" y1="1092" x2="1601.8" y2="1115" stroke="#000" stroke-width="7.6"/>
<line x1="355.8" y1="1092" x2="355.8" y2="1104" stroke="#000" stroke-width="7.6"/>
<line x1="711.8" y1="1092" x2="711.8" y2="1104" stroke="#000" stroke-width="7.6"/>
<line x1="1067.8" y1="1092" x2="1067.8" y2="1104" stroke="#000" stroke-width="7.6"/>
<line x1="1423.8" y1="1092" x2="1423.8" y2="1104" stroke="#000" stroke-width="7.6"/>
<text class="b" x="174.9" y="1193" font-size="80" text-anchor="middle" letter-spacing="0">7</text>
<text class="b" x="528.6" y="1193" font-size="80" text-anchor="middle" letter-spacing="0.8">14</text>
<text class="b" x="886.3" y="1193" font-size="80" text-anchor="middle" letter-spacing="1.5">21</text>
<text class="b" x="1242.9" y="1193" font-size="80" text-anchor="middle" letter-spacing="1.5">28</text>
<text class="b" x="1598.2" y="1193" font-size="80" text-anchor="middle" letter-spacing="1.5">35</text>
<text class="b" x="788" y="1283.5" font-size="78">2</text>
<text transform="translate(836,1281.5) scale(1.2,1)" style="font-family:'DejaVu Serif',serif;font-style:italic" font-size="63">θ</text>
<text x="890" y="1283" font-size="74.5" stroke="#000" stroke-width="0.8">(</text>
<text x="916" y="1294.5" font-size="93">°</text>
<text x="951.5" y="1283" font-size="74.5" stroke="#000" stroke-width="0.8">)</text>
<text class="b" transform="translate(100.5,588.8) rotate(-90)" font-size="83" text-anchor="middle">Intensity (a.u.)</text>
<text class="b" x="346.5" y="107.5" font-size="63.5">11.6</text>
<text transform="translate(464,112) scale(1.1,0.95)" font-size="72">°</text>
<text class="b" transform="translate(1038.5,725.3) scale(0.95,1)" font-size="63.5" letter-spacing="0">25.3</text>
<text transform="translate(1158,730) scale(1.1,0.95)" font-size="72">°</text>
<line x1="817" y1="411.5" x2="931" y2="411.5" stroke="#000" stroke-width="5"/>
<line x1="817" y1="484" x2="931" y2="484" stroke="#00f" stroke-width="5"/>
<line x1="817" y1="557" x2="931" y2="557" stroke="#f00" stroke-width="5"/>
<text class="b" x="943" y="430" font-size="62.5" letter-spacing="-0.5">IGGO</text>
<text class="b" x="945" y="502" font-size="62.5" letter-spacing="-1.9">rGOA-0</text>
<text class="b" x="945" y="574" font-size="62.5" letter-spacing="-1.9">rGOA-1</text>
</svg></body></html>
